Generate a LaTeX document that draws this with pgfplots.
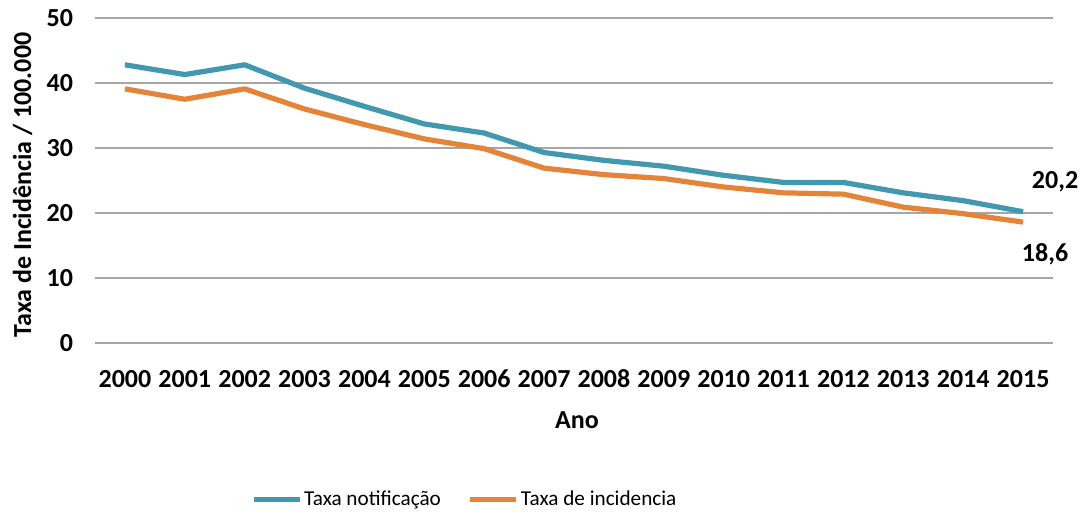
\documentclass[border=0pt]{standalone}
\usepackage{fontspec}
\setmainfont{Carlito}
\usepackage{pgfplots}
\pgfplotsset{compat=1.18}
\definecolor{tealc}{RGB}{65,152,175}
\definecolor{orangec}{RGB}{228,132,57}
\definecolor{gridc}{RGB}{166,166,166}
\begin{document}
\begin{tikzpicture}
\path[use as bounding box] (-47.5pt,-85.5pt) rectangle (494pt,171.5pt);
\begin{axis}[
  at={(0pt,0pt)}, anchor=south west,
  scale only axis,
  width=479pt, height=162.5pt,
  xmin=1999.5, xmax=2015.5,
  ymin=0, ymax=50,
  xtick={2000,2001,...,2015},
  ytick={0,10,20,30,40,50},
  axis line style={draw=none},
  tick style={draw=none},
  ymajorgrids,
  grid style={gridc, line width=0.75pt},
  /pgf/number format/assume math mode=true,
  xticklabel style={/pgf/number format/1000 sep={}},
  ticklabel style={font=\fontsize{13}{15}\selectfont\bfseries},
  xticklabel style={anchor=base, yshift=-22.5pt},
  yticklabel style={anchor=east, xshift=-7.5pt},
  xlabel={Ano},
  xlabel style={font=\fontsize{13}{15}\selectfont\bfseries, at={(axis description cs:0.503,-0.237)}, anchor=center},
  ylabel={Taxa de Incidência / 100.000},
  ylabel style={font=\fontsize{13}{15}\selectfont\bfseries, at={(axis description cs:-0.0757,0.486)}, anchor=center, rotate=0},
  legend columns=2,
  legend style={draw=none, fill=none, at={(axis description cs:0.386,-0.483)}, anchor=center,
    font=\fontsize{10.6}{13}\selectfont, nodes={inner xsep=1pt},
    /tikz/every even column/.append style={column sep=12.5pt}},
  legend image code/.code={\draw[#1, line width=2.5pt] (0pt,0pt) -- (23pt,0pt);},
  every axis plot/.append style={line width=2.6pt, line join=round},
  clip=false,
]
\addplot[tealc, no markers] coordinates {
 (2000,42.8) (2001,41.3) (2002,42.8) (2003,39.2) (2004,36.4) (2005,33.7)
 (2006,32.3) (2007,29.3) (2008,28.1) (2009,27.2) (2010,25.8) (2011,24.7)
 (2012,24.7) (2013,23.1) (2014,21.9) (2015,20.2)
} node[pos=1, xshift=16pt, yshift=15pt, black, font=\fontsize{13}{15}\selectfont\bfseries] {20,2};
\addlegendentry{Taxa notificação}
\addplot[orangec, no markers] coordinates {
 (2000,39.1) (2001,37.5) (2002,39.1) (2003,36.0) (2004,33.6) (2005,31.4)
 (2006,29.9) (2007,26.9) (2008,25.9) (2009,25.3) (2010,24.0) (2011,23.1)
 (2012,22.9) (2013,20.9) (2014,19.9) (2015,18.6)
} node[pos=1, xshift=11pt, yshift=-16pt, black, font=\fontsize{13}{15}\selectfont\bfseries] {18,6};
\addlegendentry{Taxa de incidencia}
\end{axis}
\end{tikzpicture}
\end{document}
